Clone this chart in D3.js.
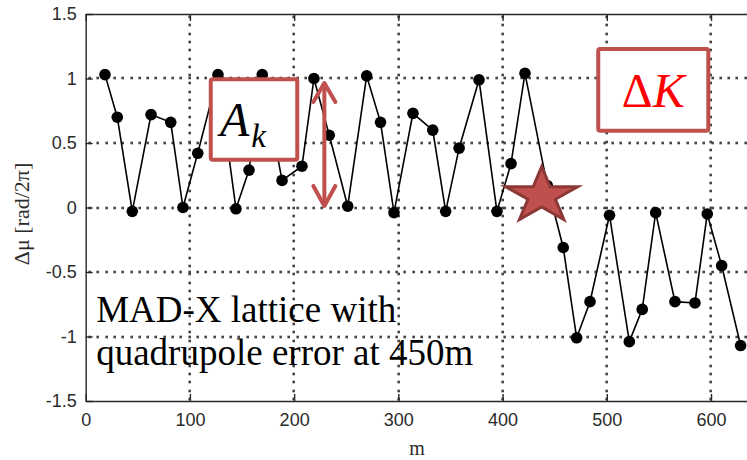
<!DOCTYPE html>
<html lang="en">
<head>
  <meta charset="utf-8">
  <title>Phase advance difference</title>
  <script src="https://cdn.jsdelivr.net/npm/d3@7/dist/d3.min.js"></script>
  <style>
    body { margin: 0; background: #fff; }
    svg { display: block; }
    .axis text { font-family: "Liberation Sans", Arial, sans-serif; font-size: 18px; fill: #2b2b2b; }
    .axis path, .axis line { stroke: #262626; stroke-width: 1.4; }
  </style>
</head>
<body>
  <script>
    // longitudinal position of each BPM [m]
    var positions = [18.5, 30.3, 44.7, 62.7, 81.6, 93.3, 107.5, 126.9, 144.2, 156.7,
                     169.4, 188.4, 207.5, 219.0, 233.7, 251.4, 269.6, 282.9, 295.8, 314.0,
                     333.0, 345.4, 358.3, 377.4, 394.6, 408.1, 421.5, 442.9, 458.2, 471.1,
                     483.9, 502.6, 521.6, 534.0, 546.9, 565.4, 584.6, 596.4, 610.2, 628.4];
    // phase advance difference [rad/2pi]
    var dmu = [1.03, 0.70, -0.03, 0.72, 0.66, 0.00, 0.42, 1.03, -0.01, 0.29,
               1.03, 0.21, 0.32, 1.00, 0.56, 0.01, 1.02, 0.66, -0.04, 0.73,
               0.60, -0.03, 0.46, 0.99, -0.03, 0.34, 1.04, 0.17, -0.31, -1.01,
               -0.73, -0.06, -1.04, -0.79, -0.04, -0.73, -0.74, -0.05, -0.45, -1.07];
    var xTicks = [0, 100, 200, 300, 400, 500, 600];
    var yTicks = [-1.5, -1, -0.5, 0, 0.5, 1, 1.5];
    var gridY = [-1, -0.5, 0, 0.5, 1];
    var gridX = [100, 200, 300, 400, 500, 600];

    var w = 747;
    var h = 460;
    var margin = { top: 14, left: 85.7 };
    var width = 667;   // plot runs off the right edge of the picture
    var height = 387;

    var svg = d3.select("body").append("svg")
                .attr("width", w)
                .attr("height", h);
    var chart = svg.append("g")
                   .attr("transform", "translate(" + margin.left + "," + margin.top + ")");

    var x = d3.scaleLinear().domain([0, 640]).range([0, width]);
    var y = d3.scaleLinear().domain([-1.5, 1.5]).range([height, 0]);

    // dotted grid (matlab ':' style), drawn as little squares every 8.3px
    var step = 8.3;
    var dots = [];
    gridX.forEach(function(v) {
      d3.range(3, height, step).forEach(function(p) { dots.push([Math.round(x(v)), Math.round(p)]); });
    });
    gridY.forEach(function(v) {
      d3.range(4, width, step).forEach(function(p) { dots.push([Math.round(p), Math.round(y(v))]); });
    });
    chart.append("g")
         .selectAll("rect")
         .data(dots)
         .enter().append("rect")
           .attr("x", function(d) { return d[0] - 1.3; })
           .attr("y", function(d) { return d[1] - 1.3; })
           .attr("width", 2.6)
           .attr("height", 2.6)
           .attr("fill", "#444");

    // axes, ticks pointing inward like matlab
    chart.append("g")
         .classed("axis", true)
         .attr("transform", "translate(0," + height + ")")
         .call(d3.axisBottom(x).tickValues(xTicks).tickSizeInner(-7).tickSizeOuter(0)
                 .tickPadding(12).tickFormat(function(d) { return String(d); }));
    chart.append("g")
         .classed("axis", true)
         .call(d3.axisTop(x).tickValues(xTicks).tickSizeInner(-7).tickSizeOuter(0)
                 .tickFormat(""));
    chart.append("g")
         .classed("axis", true)
         .call(d3.axisLeft(y).tickValues(yTicks).tickSizeInner(-7).tickSizeOuter(0)
                 .tickPadding(9).tickFormat(function(d) { return String(d); }));
    chart.selectAll(".axis .domain").attr("fill", "none");

    // axis titles
    chart.append("text")
         .attr("x", x(318))
         .attr("y", height + 54)
         .attr("text-anchor", "middle")
         .style("font-family", "Liberation Serif, serif")
         .style("font-size", "20px")
         .style("fill", "#2b2b2b")
         .text("m");
    chart.append("text")
         .attr("transform", "translate(" + (-64) + "," + y(-0.05) + ") rotate(-90)")
         .attr("dy", "0.35em")
         .attr("text-anchor", "middle")
         .style("font-family", "Liberation Serif, serif")
         .style("font-size", "22px")
         .style("fill", "#2b2b2b")
         .text("\u0394\u03bc [rad/2\u03c0]");

    // the measurement line with dots
    var line = d3.line()
                 .x(function(d, i) { return x(positions[i]); })
                 .y(function(d) { return y(d); });
    chart.append("path")
         .datum(dmu)
         .attr("d", line)
         .attr("fill", "none")
         .attr("stroke", "#000")
         .attr("stroke-width", 1.6);
    chart.selectAll(".point")
         .data(dmu)
         .enter().append("circle")
           .classed("point", true)
           .attr("cx", function(d, i) { return x(positions[i]); })
           .attr("cy", function(d) { return y(d); })
           .attr("r", 5.8)
           .attr("fill", "#000");

    // annotations
    var red = "#c0504d";

    // A_k box
    chart.append("rect")
         .attr("x", x(120)).attr("y", y(0.995))
         .attr("width", x(203) - x(120)).attr("height", y(0.37) - y(0.995))
         .attr("rx", 2)
         .attr("fill", "#fff").attr("stroke", red).attr("stroke-width", 4);
    var ak = chart.append("text")
                  .attr("x", x(128.8)).attr("y", y(0.555))
                  .style("font-family", "Liberation Serif, serif")
                  .style("font-style", "italic")
                  .style("fill", "#000");
    ak.append("tspan").style("font-size", "48px").text("A");
    ak.append("tspan").attr("dx", 2).attr("dy", 11).style("font-size", "33px").text("k");

    // double arrow showing the amplitude
    var arrowX = x(229);
    var arrowTop = y(0.965), arrowBot = y(0.012);
    var arrow = chart.append("g")
                     .attr("stroke", red)
                     .attr("stroke-width", 4)
                     .attr("fill", "none")
                     .attr("stroke-linecap", "round")
                     .attr("stroke-linejoin", "round");
    arrow.append("line")
         .attr("x1", arrowX).attr("x2", arrowX)
         .attr("y1", arrowTop + 2).attr("y2", arrowBot - 2);
    arrow.append("path")
         .attr("d", "M" + (arrowX - 11) + "," + (arrowTop + 19) + "L" + arrowX + "," + arrowTop +
                    "L" + (arrowX + 11) + "," + (arrowTop + 19));
    arrow.append("path")
         .attr("d", "M" + (arrowX - 11) + "," + (arrowBot - 20) + "L" + arrowX + "," + arrowBot +
                    "L" + (arrowX + 11) + "," + (arrowBot - 20));

    // Delta K box
    chart.append("rect")
         .attr("x", x(491.8)).attr("y", y(1.228))
         .attr("width", x(597.4) - x(491.8)).attr("height", y(0.595) - y(1.228))
         .attr("rx", 2)
         .attr("fill", "#fff").attr("stroke", red).attr("stroke-width", 4);
    var dk = chart.append("text")
                  .attr("x", x(544.6)).attr("y", y(0.78))
                  .attr("text-anchor", "middle")
                  .style("font-family", "Liberation Serif, serif")
                  .style("font-size", "48px")
                  .style("fill", "#ff0000");
    dk.append("tspan").text("\u0394");
    dk.append("tspan").style("font-style", "italic").text("K");

    // star marking the quadrupole error
    var R = 29.3, r = R * 0.382, sx = 1.29;
    var starPts = d3.range(10).map(function(i) {
      var a = -Math.PI / 2 + i * Math.PI / 5;
      var rr = i % 2 ? r : R;
      return [Math.cos(a) * rr * sx, Math.sin(a) * rr];
    });
    chart.append("path")
         .attr("transform", "translate(" + x(437.5) + "," + (y(0.075) - 2) + ")")
         .attr("d", "M" + starPts.join("L") + "Z")
         .attr("fill", red)
         .attr("stroke", "#8c3836")
         .attr("stroke-width", 3)
         .attr("stroke-linejoin", "miter");

    // note text
    var note = chart.append("text")
                    .style("font-family", "Liberation Serif, 'Times New Roman', serif")
                    .style("font-size", "37px")
                    .style("fill", "#000");
    note.append("tspan").attr("x", 10.5).attr("y", 308).text("MAD-X lattice with");
    note.append("tspan").attr("x", 10.5).attr("y", 351).text("quadrupole error at 450m");
  </script>
</body>
</html>
